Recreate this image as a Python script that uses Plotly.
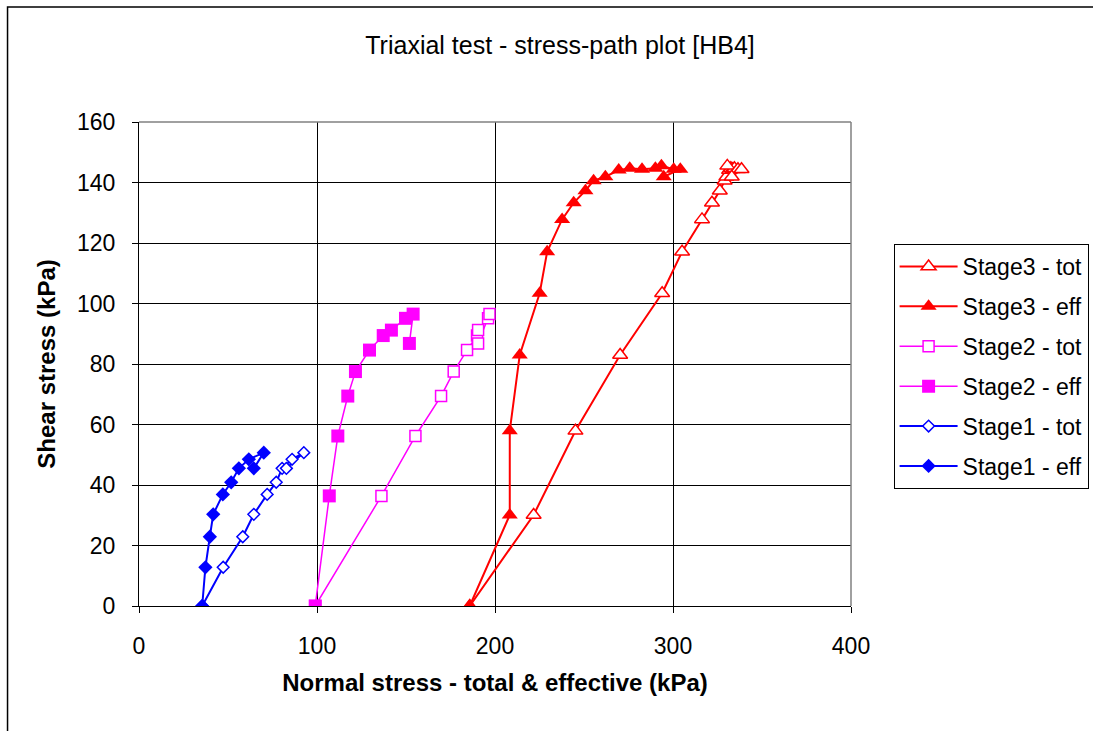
import plotly.graph_objects as go

# ---- data ----
s3_y = [0, 30.1, 57.9, 83.0, 103.4, 117.1, 127.8, 133.3, 137.3, 140.6, 141.9, 144.1, 144.7, 144.4, 144.7, 145.5, 144.4, 144.4, 141.9]
s3_eff_x = [185.8, 208.3, 208.3, 213.9, 225.1, 229.3, 237.7, 244.2, 250.8, 255.4, 262.0, 269.5, 275.7, 282.6, 290.1, 293.5, 300.4, 304.1, 294.8]
s3_tot_x = [185.8, 221.7, 245.2, 270.3, 293.9, 305.1, 316.3, 321.9, 326.3, 329.0, 330.0, 331.5, 332.5, 333.5, 334.5, 330.5, 336.5, 338.5, 333.0]

s2_y = [0, 36.4, 56.2, 69.4, 77.5, 84.6, 89.4, 91.2, 95.1, 96.5, 86.8]
s2_eff_x = [99.0, 106.9, 111.7, 117.3, 121.6, 129.5, 137.2, 141.8, 149.7, 154.0, 151.9]
s2_tot_x = [99.0, 136.2, 155.3, 169.7, 176.8, 184.3, 189.9, 190.5, 196.1, 196.9, 190.5]

s1_y = [0, 12.8, 22.9, 30.3, 36.9, 40.9, 45.5, 48.5, 50.7, 45.5]
s1_eff_x = [35.5, 37.3, 39.8, 41.7, 47.1, 51.8, 56.1, 61.7, 70.1, 64.5]
s1_tot_x = [35.5, 47.3, 58.3, 64.5, 72.0, 77.1, 80.4, 86.0, 92.6, 82.8]

x_ticks = [0, 100, 200, 300, 400]
y_ticks = [0, 20, 40, 60, 80, 100, 120, 140, 160]

RED, MAG, BLUE = "#FF0000", "#FF00FF", "#0000FF"
FONT = "Liberation Sans, Arial, sans-serif"

fig = go.Figure()

def add(name, x, y, color, symbol, size, filled, lw):
    fig.add_trace(go.Scatter(
        x=x, y=y, name=name, mode="lines+markers", legendgroup=name,
        line=dict(color=color, width=lw),
        marker=dict(symbol=symbol, size=size,
                    color=color if filled else "white",
                    line=dict(color=color, width=1.5 if not filled else 0)),
    ))

add("Stage3 - tot", s3_tot_x, s3_y, RED, "triangle-up", 13, False, 2)
add("Stage3 - eff", s3_eff_x, s3_y, RED, "triangle-up", 14, True, 2)
add("Stage2 - tot", s2_tot_x, s2_y, MAG, "square", 11, False, 1.5)
add("Stage2 - eff", s2_eff_x, s2_y, MAG, "square", 13, True, 1.5)
add("Stage1 - tot", s1_tot_x, s1_y, BLUE, "diamond", 9, False, 2)
add("Stage1 - eff", s1_eff_x, s1_y, BLUE, "diamond", 11, True, 2)

L, R, T, B = 138.5, 850.7, 122, 606
W, H = 1093, 731

def px(xp):
    return (xp - L) / (R - L)

def py(yp):
    return (B - yp) / (B - T)

fig.update_layout(
    width=W, height=H,
    margin=dict(l=L, r=W - R, t=T, b=H - B, pad=0, autoexpand=False),
    paper_bgcolor="white", plot_bgcolor="white",
    font=dict(family=FONT, size=23, color="black"),
    title=dict(text="Triaxial test - stress-path plot [HB4]",
               x=560 / W, xref="container", xanchor="center",
               y=1 - 45 / H, yref="container", yanchor="middle",
               font=dict(size=25, family=FONT, color="black")),
    showlegend=True,
    legend=dict(x=px(893.3), y=py(244), xanchor="left", yanchor="top",
                bordercolor="black", borderwidth=1, bgcolor="white",
                font=dict(size=23, family=FONT), tracegroupgap=7,
                itemwidth=58),
    xaxis=dict(range=[0, 400], tickvals=x_ticks, showgrid=True,
               gridcolor="black", gridwidth=1, zeroline=False,
               showline=True, linecolor="black", linewidth=1,
               ticks="outside", ticklen=6, tickcolor="black",
               ticklabelstandoff=13,
               title=dict(text="<b>Normal stress - total & effective (kPa)</b>",
                          standoff=16, font=dict(size=24))),
    yaxis=dict(range=[0, 160], tickvals=y_ticks, showgrid=True,
               gridcolor="black", gridwidth=1, zeroline=False,
               showline=True, linecolor="black", linewidth=1,
               ticks="outside", ticklen=6, tickcolor="black",
               ticklabelstandoff=12,
               title=dict(text="<b>Shear stress (kPa)</b>",
                          standoff=14, font=dict(size=24))),
    shapes=[
        dict(type="line", xref="paper", yref="paper", x0=0, x1=1, y0=1, y1=1,
             line=dict(color="#808080", width=1.5), layer="above"),
        dict(type="line", xref="paper", yref="paper", x0=1, x1=1, y0=0, y1=1,
             line=dict(color="#808080", width=1.5), layer="above"),
        dict(type="rect", xref="paper", yref="paper",
             x0=px(7), x1=px(1300), y0=py(7), y1=py(900),
             line=dict(color="black", width=1.5), layer="below"),
    ],
)

fig.write_html("out.html")
